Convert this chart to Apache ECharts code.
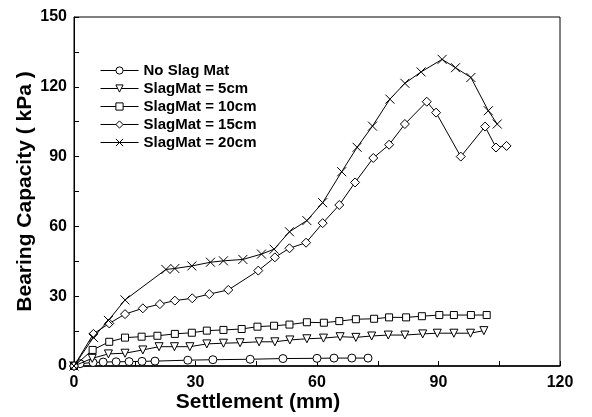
<!DOCTYPE html>
<html>
<head>
<meta charset="utf-8">
<script src="https://cdn.jsdelivr.net/npm/echarts@6/dist/echarts.min.js"></script>
<style>
html,body{margin:0;padding:0;background:#fff;}
#chart{width:592px;height:417px;}
</style>
</head>
<body>
<div id="chart"></div>
<script>
var seriesNames = ['No Slag Mat', 'SlagMat = 5cm', 'SlagMat = 10cm', 'SlagMat = 15cm', 'SlagMat = 20cm'];
var xTicks = [0, 30, 60, 90, 120];
var yTicks = [0, 30, 60, 90, 120, 150];

var noSlagX = [0, 1.5, 4.7, 7.2, 10.4, 13.6, 16.8, 20.0, 28.1, 34.3, 43.5, 51.6, 60.0, 64.2, 68.6, 72.6];
var noSlagY = [0, 1.0, 1.5, 1.7, 1.8, 1.9, 2.0, 2.1, 2.5, 2.7, 2.9, 3.2, 3.3, 3.4, 3.4, 3.4];

var s5X = [0, 4.5, 8.5, 12.6, 17.0, 21.0, 24.8, 28.6, 32.8, 36.9, 41.0, 45.7, 49.6, 53.3, 57.5, 61.6, 65.7, 69.6, 73.5, 77.6, 81.7, 86.1, 89.7, 93.8, 97.9, 101.2];
var s5Y = [0, 3.3, 5.2, 5.5, 6.9, 8.3, 8.3, 8.3, 9.5, 9.8, 10.0, 10.4, 10.4, 11.2, 11.7, 12.0, 12.6, 12.3, 12.9, 13.3, 13.3, 13.8, 14.1, 14.1, 14.1, 15.2];

var s10X = [0, 4.6, 8.7, 12.6, 16.7, 20.6, 24.9, 29.1, 32.8, 36.9, 41.4, 45.3, 49.4, 53.2, 57.5, 61.7, 65.5, 69.6, 74.1, 77.8, 82.0, 85.9, 90.2, 93.8, 98.0, 101.9];
var s10Y = [0, 6.9, 10.4, 12.2, 12.6, 13.0, 13.8, 14.3, 15.2, 15.5, 15.9, 16.9, 17.3, 17.8, 18.8, 18.6, 19.3, 20.1, 20.3, 20.9, 20.9, 21.4, 21.9, 21.9, 21.9, 21.9];

var s15X = [0, 4.8, 8.7, 12.6, 17.0, 21.2, 24.9, 29.2, 33.4, 38.1, 45.5, 49.6, 53.2, 57.3, 61.4, 65.5, 69.4, 73.9, 77.8, 81.7, 87.1, 89.4, 95.5, 101.5, 104.2, 106.8];
var s15Y = [0, 13.8, 18.3, 22.3, 24.8, 26.6, 28.1, 29.1, 30.9, 32.7, 41.0, 46.7, 50.6, 53.0, 61.4, 69.2, 78.9, 89.4, 95.1, 104.0, 113.6, 108.9, 90.0, 102.9, 93.9, 94.6];

var s20X = [0, 4.8, 8.5, 12.6, 22.7, 24.9, 29.1, 33.7, 36.9, 41.7, 46.3, 49.4, 53.2, 57.5, 61.4, 66.1, 69.9, 73.7, 78.0, 81.7, 85.7, 90.9, 94.2, 98.0, 102.3, 104.5];
var s20Y = [0, 12.3, 19.6, 28.4, 41.5, 41.9, 43.0, 44.6, 45.2, 45.8, 48.1, 50.2, 57.7, 62.5, 70.2, 83.5, 94.0, 103.1, 114.7, 121.5, 126.4, 131.8, 128.2, 124.0, 109.7, 104.0];

function pairs(xs, ys) { return xs.map(function (x, i) { return [x, ys[i]]; }); }

var FONT = '"Liberation Sans", Arial, sans-serif';
var symbols = [
  'circle',
  'path://M0,0 L10,0 L5,9 Z',
  'rect',
  'diamond',
  'path://M0,0 L10,10 M10,0 L0,10'
];
var sizes = [8, 8, 7, 9, 9];
var datasets = [pairs(noSlagX, noSlagY), pairs(s5X, s5Y), pairs(s10X, s10Y), pairs(s15X, s15Y), pairs(s20X, s20Y)];

var series = datasets.map(function (d, i) {
  return {
    name: seriesNames[i],
    type: 'line',
    data: d,
    symbol: symbols[i],
    symbolSize: sizes[i],
    showAllSymbol: true,
    lineStyle: { color: '#000', width: 1 },
    itemStyle: { color: '#fff', borderColor: '#000', borderWidth: 1 },
    emphasis: { disabled: true },
    animation: false,
    z: 2 + i
  };
});

var chart = echarts.init(document.getElementById('chart'), null, { renderer: 'canvas' });
chart.setOption({
  backgroundColor: '#fff',
  animation: false,
  grid: { left: 74, right: 32, top: 17, bottom: 51, outerBoundsMode: 'none', containLabel: false, show: true, borderColor: '#000', borderWidth: 1, backgroundColor: 'transparent' },
  legend: {
    orient: 'vertical',
    left: 95,
    top: 58,
    itemWidth: 38,
    itemHeight: 9,
    itemGap: 3,
    data: seriesNames.map(function (n) { return { name: n }; }),
    itemStyle: { color: '#fff', borderColor: '#000', borderWidth: 1 },
    lineStyle: { color: '#000', width: 1 },
    textStyle: { fontFamily: FONT, fontWeight: 'bold', fontSize: 15, color: '#000' },
    selectedMode: false
  },
  xAxis: {
    type: 'value',
    min: 0, max: 120, interval: 30,
    name: 'Settlement (mm)',
    nameLocation: 'middle',
    nameGap: 26,
    nameMoveOverlap: false,
    nameTextStyle: { fontFamily: FONT, fontWeight: 'bold', fontSize: 21, color: '#000', padding: [0, 118, 0, 0] },
    axisLine: { show: true, lineStyle: { color: '#000', width: 1.5 } },
    axisTick: { show: true, inside: true, length: 5, lineStyle: { color: '#000' } },
    minorTick: { show: true, splitNumber: 2, length: 5, lineStyle: { color: '#000' } },
    splitLine: { show: false },
    axisLabel: { fontFamily: FONT, fontWeight: 'bold', fontSize: 16, color: '#000', margin: 9 }
  },
  yAxis: {
    type: 'value',
    min: 0, max: 150, interval: 30,
    name: 'Bearing Capacity ( kPa )',
    nameLocation: 'middle',
    nameGap: 38,
    nameMoveOverlap: false,
    nameTextStyle: { fontFamily: FONT, fontWeight: 'bold', fontSize: 21, color: '#000' },
    axisLine: { show: true, lineStyle: { color: '#000', width: 1 } },
    axisTick: { show: true, inside: true, length: 5, lineStyle: { color: '#000' } },
    minorTick: { show: true, splitNumber: 2, length: 5, lineStyle: { color: '#000' } },
    splitLine: { show: false },
    axisLabel: { fontFamily: FONT, fontWeight: 'bold', fontSize: 16, color: '#000', margin: 7 }
  },
  series: series
});
</script>
</body>
</html>
